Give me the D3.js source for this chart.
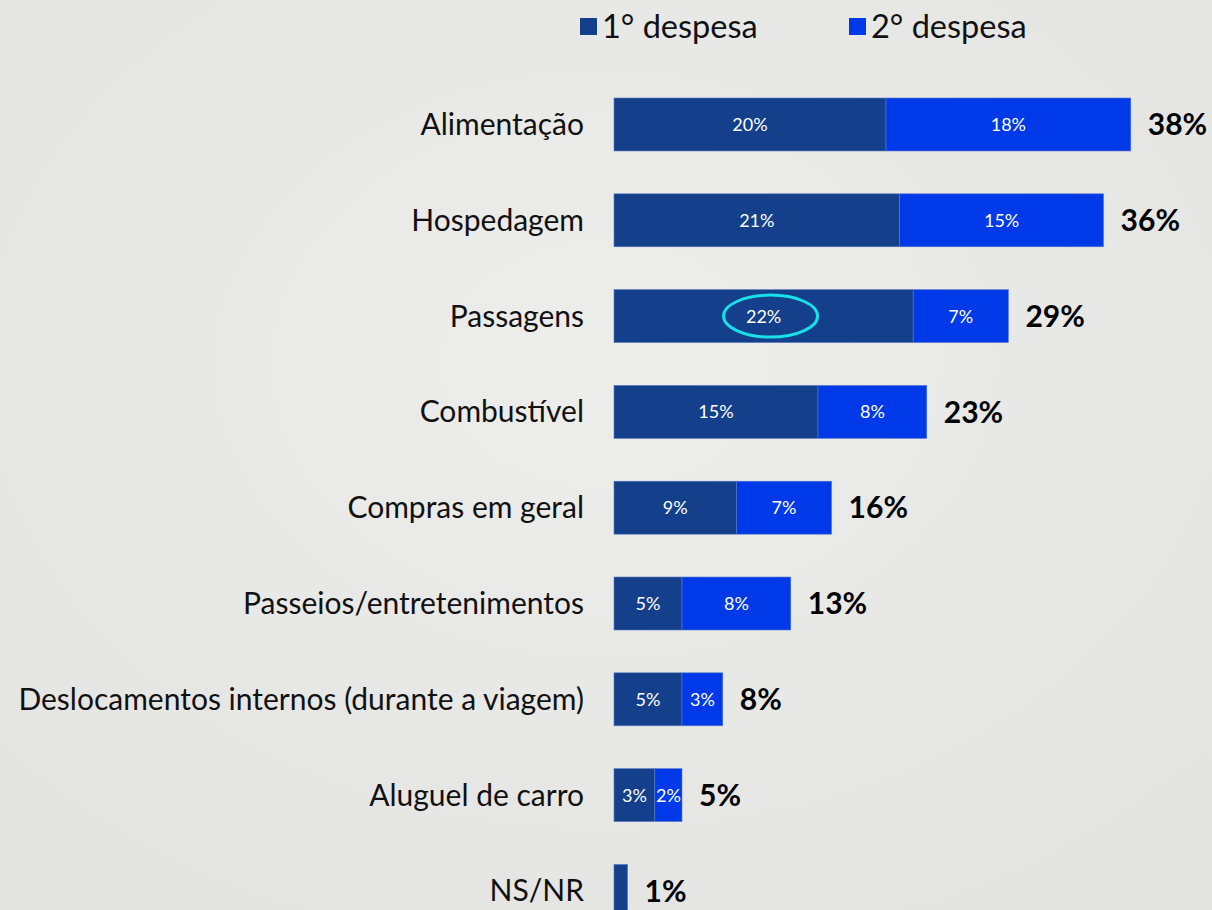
<!DOCTYPE html>
<html><head><meta charset="utf-8">
<script src="https://cdn.jsdelivr.net/npm/d3@7"></script>
<style>html,body{margin:0;padding:0;background:#e8e8e7;overflow:hidden}</style>
</head><body>
<svg id="c" width="1212" height="910"></svg>
<script>
const categories = ["Alimentação","Hospedagem","Passagens","Combustível","Compras em geral","Passeios/entretenimentos","Deslocamentos internos (durante a viagem)","Aluguel de carro","NS/NR"];
const first = [20,21,22,15,9,5,5,3,1];
const second = [18,15,7,8,7,8,3,2,0];
const totals = [38,36,29,23,16,13,8,5,1];
const seriesNames = ["1° despesa","2° despesa"];
const colors = ["#133f8b","#0039e8"];
const highlightIndex = 2;

const svg = d3.select("#c");
const W = 1212, H = 910;
const defs = svg.append("defs");
const g0 = defs.append("radialGradient").attr("id","bg").attr("cx","50%").attr("cy","40%").attr("r","75%");
g0.append("stop").attr("offset","0%").attr("stop-color","#ededec");
g0.append("stop").attr("offset","100%").attr("stop-color","#e3e3e2");
svg.append("rect").attr("width",W).attr("height",H).attr("fill","url(#bg)");

const font = "Lato, 'Open Sans', sans-serif";
const x = d3.scaleLinear().domain([0,1]).range([614, 627.6]);
const y = d3.scaleBand().domain(categories).range([98, 917.4]).paddingInner(0.447).paddingOuter(0);

const rows = svg.append("g").selectAll("g").data(categories).join("g")
  .attr("transform", d => `translate(0,${y(d)})`);
const bh = y.bandwidth();
const idx = d => categories.indexOf(d);

rows.append("rect").attr("x", x(0)).attr("y",0)
  .attr("width",d=>x(first[idx(d)])-x(0)).attr("height",bh)
  .attr("fill",colors[0]).attr("stroke","#5a7cc4").attr("stroke-width",0.6);
rows.filter(d=>second[idx(d)]>0).append("rect")
  .attr("x",d=>x(first[idx(d)])).attr("y",0)
  .attr("width",d=>x(first[idx(d)]+second[idx(d)])-x(first[idx(d)])).attr("height",bh)
  .attr("fill",colors[1]).attr("stroke","#5a7cc4").attr("stroke-width",0.6);

rows.filter(d=>first[idx(d)]>=2).append("text")
  .attr("x",d=>(x(0)+x(first[idx(d)]))/2)
  .attr("y",bh/2).attr("dy","0.36em").attr("text-anchor","middle")
  .attr("fill","#fff").attr("font-family",font).attr("font-size",18)
  .text(d=>first[idx(d)]+"%");
rows.filter(d=>second[idx(d)]>0).append("text")
  .attr("x",d=>(x(first[idx(d)])+x(first[idx(d)]+second[idx(d)]))/2)
  .attr("y",bh/2).attr("dy","0.36em").attr("text-anchor","middle")
  .attr("fill","#fff").attr("font-family",font).attr("font-size",18)
  .text(d=>second[idx(d)]+"%");

rows.append("text")
  .attr("x",d=>x(totals[idx(d)])+17)
  .attr("y",bh/2).attr("dy","0.36em")
  .attr("fill","#000").attr("font-family",font).attr("font-weight","bold").attr("font-size",30)
  .text(d=>totals[idx(d)]+"%");

rows.append("text").attr("x",584).attr("y",bh/2).attr("dy","0.35em")
  .attr("text-anchor","end").attr("fill","#111").attr("font-family",font).attr("font-size",30)
  .text(d=>d);

const hc = categories[highlightIndex];
svg.append("ellipse").attr("cx",(x(0)+x(first[highlightIndex]))/2 + 7).attr("cy",y(hc)+bh/2)
  .attr("rx",47).attr("ry",21).attr("fill","none").attr("stroke","#19e0e6").attr("stroke-width",3);

const leg = svg.append("g");
const legX = [580, 849];
seriesNames.forEach((s,i)=>{
  leg.append("rect").attr("x",legX[i]).attr("y",18).attr("width",17).attr("height",17).attr("fill",colors[i]);
  leg.append("text").attr("x",legX[i]+22).attr("y",27).attr("dy","0.35em")
    .attr("font-family",font).attr("font-size",32.5).attr("fill","#111").text(s);
});
</script>
</body></html>
